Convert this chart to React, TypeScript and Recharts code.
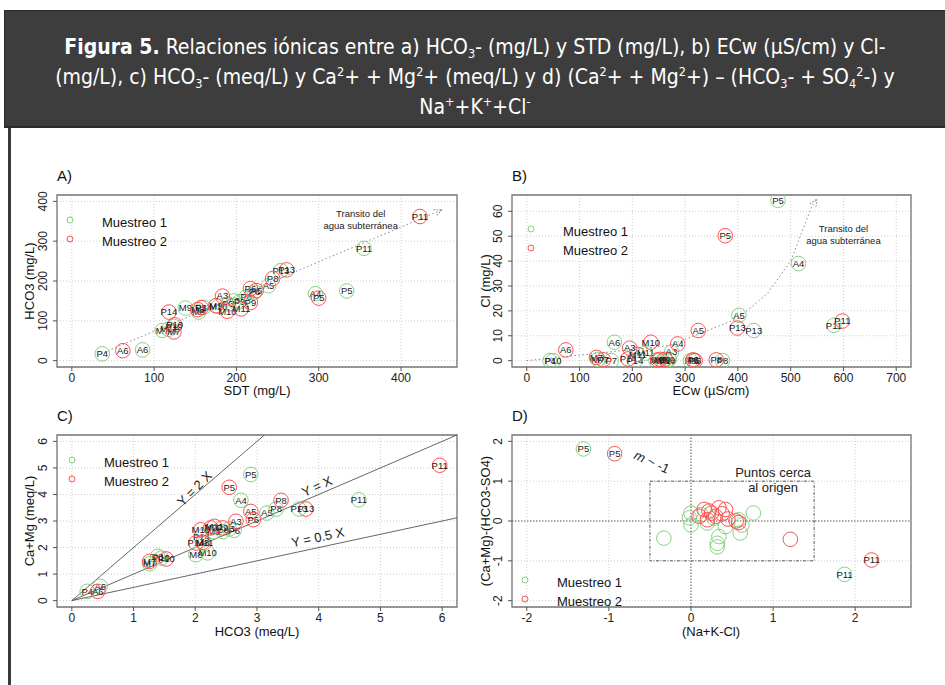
import React from "react"
import {
  ScatterChart,
  Scatter,
  XAxis,
  YAxis,
  CartesianGrid,
  ReferenceLine,
  ReferenceArea,
  ReferenceDot,
} from "recharts"

const GREEN = "#85d285"
const RED = "#ff5050"
const FONT = "'Liberation Sans', Arial, sans-serif"

type Pt = { id: string; x: number; y: number }

// A) SDT (mg/L) vs HCO3 (mg/L)
const aTicks = [0, 100, 200, 300, 400]
const aMuestreo1: Pt[] = [
  { id: "P4", x: 37, y: 17 },
  { id: "A6", x: 86, y: 27 },
  { id: "M7", x: 110, y: 76 },
  { id: "M11", x: 118, y: 79 },
  { id: "P10", x: 124, y: 86 },
  { id: "M9", x: 138, y: 132 },
  { id: "M8", x: 154, y: 122 },
  { id: "P14", x: 160, y: 134 },
  { id: "M10", x: 178, y: 136 },
  { id: "P3", x: 190, y: 142 },
  { id: "A3", x: 197, y: 150 },
  { id: "P9", x: 204, y: 148 },
  { id: "P8", x: 212, y: 160 },
  { id: "P6", x: 222, y: 172 },
  { id: "A5", x: 239, y: 188 },
  { id: "P13", x: 254, y: 226 },
  { id: "A4", x: 296, y: 168 },
  { id: "P5", x: 334, y: 175 },
  { id: "P11", x: 355, y: 282 },
]
const aMuestreo2: Pt[] = [
  { id: "A6", x: 62, y: 25 },
  { id: "M7", x: 124, y: 72 },
  { id: "P10", x: 125, y: 90 },
  { id: "P14", x: 118, y: 122 },
  { id: "M8", x: 153, y: 128 },
  { id: "P3", x: 157, y: 133 },
  { id: "M9", x: 175, y: 138 },
  { id: "A3", x: 183, y: 162 },
  { id: "M10", x: 189, y: 124 },
  { id: "M11", x: 206, y: 130 },
  { id: "P9", x: 217, y: 146 },
  { id: "P6", x: 217, y: 181 },
  { id: "A5", x: 224, y: 176 },
  { id: "P8", x: 244, y: 206 },
  { id: "P13", x: 261, y: 228 },
  { id: "P5", x: 300, y: 157 },
  { id: "P11", x: 423, y: 362 },
]
const aTransit = [
  { x: 35, y: 17 },
  { x: 450, y: 379 },
]

// B) ECw (uS/cm) vs Cl (mg/L)
const bTicksX = [0, 100, 200, 300, 400, 500, 600, 700]
const bTicksY = [0, 10, 20, 30, 40, 50, 60]
const bMuestreo1: Pt[] = [
  { id: "P4", x: 44, y: 0 },
  { id: "P10", x: 50, y: 0 },
  { id: "M7", x: 135, y: 0.5 },
  { id: "P7", x: 160, y: 0 },
  { id: "A6", x: 166, y: 7.4 },
  { id: "P14", x: 205, y: 0 },
  { id: "M11", x: 225, y: 3 },
  { id: "M8", x: 245, y: 0 },
  { id: "M9", x: 258, y: 0 },
  { id: "M10", x: 265, y: 0 },
  { id: "P9", x: 270, y: 0.5 },
  { id: "A3", x: 274, y: 3.4 },
  { id: "P3", x: 310, y: 0 },
  { id: "P6", x: 316, y: 0 },
  { id: "P8", x: 371, y: 0 },
  { id: "A5", x: 402, y: 18.2 },
  { id: "P13", x: 430, y: 12.1 },
  { id: "P5", x: 476, y: 64.4 },
  { id: "A4", x: 515, y: 39 },
  { id: "P11", x: 582, y: 14.2 },
]
const bMuestreo2: Pt[] = [
  { id: "A6", x: 74, y: 4.3 },
  { id: "M7", x: 132, y: 1.3 },
  { id: "P7", x: 145, y: 0.3 },
  { id: "P14", x: 192, y: 0.7 },
  { id: "A3", x: 195, y: 5 },
  { id: "M11", x: 210, y: 2.5 },
  { id: "M10", x: 235, y: 7.4 },
  { id: "M8", x: 248, y: 0.3 },
  { id: "M9", x: 253, y: 0.5 },
  { id: "P9", x: 262, y: 0.5 },
  { id: "A4", x: 286, y: 6.7 },
  { id: "P3", x: 315, y: 0.3 },
  { id: "P6", x: 319, y: 0 },
  { id: "A5", x: 325, y: 12.1 },
  { id: "P8", x: 359, y: 0.3 },
  { id: "P5", x: 376, y: 50.2 },
  { id: "P13", x: 399, y: 13.1 },
  { id: "P11", x: 598, y: 15.9 },
]
const bTransit = [
  { x: 0, y: 0 },
  { x: 90, y: 2 },
  { x: 180, y: 4 },
  { x: 267, y: 6 },
  { x: 330, y: 11 },
  { x: 400, y: 17 },
  { x: 456, y: 27 },
  { x: 500, y: 40 },
  { x: 520, y: 51 },
  { x: 540, y: 62 },
  { x: 550, y: 65 },
]

// C) HCO3 (meq/L) vs Ca+Mg (meq/L)
const cTicks = [0, 1, 2, 3, 4, 5, 6]
const cMuestreo1: Pt[] = [
  { id: "P4", x: 0.25, y: 0.35 },
  { id: "A6", x: 0.46, y: 0.54 },
  { id: "M7", x: 1.26, y: 1.39 },
  { id: "P3", x: 1.39, y: 1.67 },
  { id: "P10", x: 1.45, y: 1.6 },
  { id: "M8", x: 2.01, y: 1.73 },
  { id: "M10", x: 2.2, y: 1.8 },
  { id: "M11", x: 2.15, y: 2.17 },
  { id: "P14", x: 2.1, y: 2.4 },
  { id: "M9", x: 2.3, y: 2.6 },
  { id: "P9", x: 2.45, y: 2.6 },
  { id: "A3", x: 2.55, y: 2.7 },
  { id: "P6", x: 2.63, y: 2.65 },
  { id: "A4", x: 2.74, y: 3.78 },
  { id: "P5", x: 2.9, y: 4.75 },
  { id: "A5", x: 3.16, y: 3.3 },
  { id: "P8", x: 3.31, y: 3.45 },
  { id: "P13", x: 3.68, y: 3.45 },
  { id: "P11", x: 4.65, y: 3.8 },
]
const cMuestreo2: Pt[] = [
  { id: "A6", x: 0.42, y: 0.35 },
  { id: "M7", x: 1.26, y: 1.48 },
  { id: "P10", x: 1.53, y: 1.57 },
  { id: "P14", x: 2.01, y: 2.17 },
  { id: "M8", x: 2.12, y: 2.2 },
  { id: "M10", x: 2.09, y: 2.67 },
  { id: "M9", x: 2.25, y: 2.74 },
  { id: "M11", x: 2.31, y: 2.8 },
  { id: "P9", x: 2.44, y: 2.74 },
  { id: "A3", x: 2.66, y: 2.99 },
  { id: "P5", x: 2.55, y: 4.27 },
  { id: "A5", x: 2.9, y: 3.36 },
  { id: "P6", x: 2.94, y: 3.05 },
  { id: "P8", x: 3.39, y: 3.78 },
  { id: "P13", x: 3.79, y: 3.45 },
  { id: "P11", x: 5.96, y: 5.1 },
]

// D) (Na+K-Cl) vs (Ca+Mg)-(HCO3-SO4)
const dTicks = [-2, -1, 0, 1, 2]
const dMuestreo1: Pt[] = [
  { id: "P5", x: -1.31, y: 1.81 },
  { id: "P11", x: 1.87, y: -1.34 },
  { id: "", x: 0.76, y: 0.2 },
  { id: "", x: -0.33, y: -0.43 },
  { id: "", x: 0, y: 0.2 },
  { id: "", x: 0, y: -0.1 },
  { id: "", x: -0.02, y: 0.08 },
  { id: "", x: 0.32, y: -0.56 },
  { id: "", x: 0.32, y: -0.65 },
  { id: "", x: 0.34, y: -0.39 },
  { id: "", x: 0.6, y: -0.3 },
  { id: "", x: 0.62, y: -0.1 },
  { id: "", x: 0.42, y: -0.14 },
  { id: "", x: 0.58, y: 0.03 },
  { id: "", x: 0.12, y: 0.16 },
  { id: "", x: 0.28, y: 0.07 },
  { id: "", x: 0.2, y: -0.05 },
]
const dMuestreo2: Pt[] = [
  { id: "P5", x: -0.93, y: 1.69 },
  { id: "P11", x: 2.2, y: -0.98 },
  { id: "", x: 1.21, y: -0.46 },
  { id: "", x: 0.16, y: 0.29 },
  { id: "", x: 0.34, y: 0.33 },
  { id: "", x: 0.42, y: 0.29 },
  { id: "", x: 0.2, y: 0.03 },
  { id: "", x: 0.3, y: 0.12 },
  { id: "", x: 0.58, y: -0.04 },
  { id: "", x: 0.1, y: 0.12 },
  { id: "", x: 0.25, y: 0.2 },
  { id: "", x: 0.38, y: 0.18 },
  { id: "", x: 0.45, y: 0.05 },
  { id: "", x: 0.22, y: 0.25 },
  { id: "", x: 0.55, y: 0 },
]

const dot = (color: string) => (p: any) => (
  <g>
    <circle cx={p.cx} cy={p.cy} r={7.3} fill="none" stroke={color} strokeWidth={1} />
    {p.payload.id ? (
      <text x={p.cx} y={p.cy + 3.3} textAnchor="middle" fontSize={9.5} fill="#222" fontFamily={FONT}>
        {p.payload.id}
      </text>
    ) : null}
  </g>
)

const xTick = (p: any) => (
  <text x={p.x} y={p.y} dy="0.71em" textAnchor="middle" fontSize={12} fill="#222" fontFamily={FONT}>
    {p.payload.value}
  </text>
)

const yTick = (p: any) => (
  <text
    transform={`translate(${p.x - 4},${p.y}) rotate(-90)`}
    textAnchor="middle"
    fontSize={12}
    fill="#222"
    fontFamily={FONT}
  >
    {p.payload.value}
  </text>
)

const arrowHead = (angle: number) => (p: any) => (
  <path
    d="M-8,-3.5 L0,0 L-8,3.5"
    transform={`translate(${p.cx},${p.cy}) rotate(${angle})`}
    fill="none"
    stroke="#888"
    strokeDasharray="1.5 1.5"
  />
)

const note = (lines: string[], size: number, angle = 0, lh = 12) => (p: any) => (
  <text
    x={p.cx}
    y={p.cy}
    textAnchor="middle"
    fontSize={size}
    fill="#222"
    fontFamily={FONT}
    transform={`rotate(${angle} ${p.cx} ${p.cy})`}
  >
    {lines.map((l, i) => (
      <tspan key={i} x={p.cx} dy={i ? lh : 0}>
        {l}
      </tspan>
    ))}
  </text>
)

const noShape = () => <g />

function frame(xd: number[], yd: number[], xt: number[], yt: number[]) {
  return [
    <CartesianGrid key="g" stroke="#cfcfcf" strokeDasharray="1 2" />,
    <XAxis
      key="x"
      type="number"
      dataKey="x"
      domain={xd}
      ticks={xt}
      allowDataOverflow
      axisLine={false}
      tickLine={{ stroke: "#555" }}
      tickSize={4}
      tick={xTick}
      height={30}
      interval={0}
    />,
    <YAxis
      key="y"
      type="number"
      dataKey="y"
      domain={yd}
      ticks={yt}
      allowDataOverflow
      axisLine={false}
      tickLine={{ stroke: "#555" }}
      tickSize={4}
      tick={yTick}
      width={40}
      interval={0}
    />,
    <ReferenceArea key="box" x1={xd[0]} x2={xd[1]} y1={yd[0]} y2={yd[1]} fill="none" stroke="#777" strokeWidth={1.3} fillOpacity={0} />,
  ]
}

function Txt({ x, y, size = 13, rot = 0, anchor = "middle", children, color = "#111" }: any) {
  return (
    <div
      style={{
        position: "absolute",
        left: x,
        top: y,
        transform: `translate(${anchor === "middle" ? "-50%" : "0"},-50%) rotate(${rot}deg)`,
        fontSize: size,
        fontFamily: FONT,
        whiteSpace: "nowrap",
        lineHeight: 1,
        color,
      }}
    >
      {children}
    </div>
  )
}

function Legend({ cx, cy, tx }: { cx: number; cy: number; tx: number }) {
  const items = [
    { label: "Muestreo 1", color: GREEN },
    { label: "Muestreo 2", color: RED },
  ]
  return (
    <>
      {items.map((it, i) => (
        <React.Fragment key={it.label}>
          <svg style={{ position: "absolute", left: cx - 5, top: cy + i * 19 - 5 }} width={10} height={10}>
            <circle cx={5} cy={5} r={3} fill="none" stroke={it.color} />
          </svg>
          <Txt x={tx} y={cy + 1.5 + i * 19} anchor="start" size={13}>
            {it.label}
          </Txt>
        </React.Fragment>
      ))}
    </>
  )
}

const sub = { fontSize: "0.6em", lineHeight: 0, verticalAlign: "-0.35em" } as const
const sup = { fontSize: "0.6em", lineHeight: 0, verticalAlign: "0.6em" } as const

export default function App() {
  const W = 470
  const H = 240
  const mLeft = { top: 35, right: 13, bottom: 3, left: 17 }
  const mRight = { top: 35, right: 29, bottom: 3, left: 2 }
  return (
    <div style={{ position: "absolute", left: 0, top: 0, width: 945, height: 685, background: "#fff", overflow: "hidden" }}>
      <div
        style={{
          position: "absolute",
          left: 4,
          top: 10,
          width: 945,
          height: 118,
          background: "#3d3d3d",
          borderTop: "1px solid #2a2a2a",
          borderLeft: "1px solid #2a2a2a",
          borderBottom: "2px solid #2a2a2a",
          boxSizing: "border-box",
          color: "#fff",
          fontFamily: "'Liberation Sans Narrow', 'DejaVu Sans Condensed', sans-serif",
          fontSize: 21,
          lineHeight: "30px",
          textAlign: "center",
          paddingTop: 21,
          paddingRight: 4,
        }}
      >
        <div>
          <b>Figura 5.</b> Relaciones iónicas entre a) HCO<span style={sub}>3</span>- (mg/L) y STD (mg/L), b) ECw (µS/cm) y Cl-
        </div>
        <div>
          (mg/L), c) HCO<span style={sub}>3</span>- (meq/L) y Ca<span style={sup}>2</span>+ + Mg<span style={sup}>2</span>+ (meq/L) y d)
          (Ca<span style={sup}>2</span>+ + Mg<span style={sup}>2</span>+) – (HCO<span style={sub}>3</span>- + SO<span style={sub}>4</span>
          <span style={sup}>2</span>-) y
        </div>
        <div>
          Na<span style={sup}>+</span>+K<span style={sup}>+</span>+Cl<span style={sup}>-</span>
        </div>
      </div>
      <div style={{ position: "absolute", left: 8, top: 128, width: 3, height: 560, background: "#3a3a3a" }} />

      {/* A */}
      <div style={{ position: "absolute", left: 0, top: 160 }}>
        <ScatterChart width={W} height={H} margin={mLeft}>
          {frame([-18, 468], [-16, 416], aTicks, aTicks)}
          <Scatter data={aTransit} fill="none" stroke="#888" line={{ stroke: "#888", strokeDasharray: "1.5 2.5" }} lineType="joint" shape={noShape} isAnimationActive={false} />
          <ReferenceDot x={450} y={379} r={0} ifOverflow="visible" shape={arrowHead(-23)} />
          <ReferenceDot x={351} y={361} r={0} ifOverflow="visible" shape={note(["Transito del", "agua subterránea"], 9.5, 0, 12)} />
          <Scatter data={aMuestreo1} shape={dot(GREEN)} isAnimationActive={false} />
          <Scatter data={aMuestreo2} shape={dot(RED)} isAnimationActive={false} />
        </ScatterChart>
      </div>

      {/* B */}
      <div style={{ position: "absolute", left: 470, top: 160 }}>
        <ScatterChart width={W} height={H} margin={mRight}>
          {frame([-28, 728], [-2.56, 66.56], bTicksX, bTicksY)}
          <Scatter data={bTransit} fill="none" stroke="#888" line={{ stroke: "#888", strokeDasharray: "1.5 2.5" }} lineType="joint" shape={noShape} isAnimationActive={false} />
          <ReferenceDot x={550} y={65} r={0} ifOverflow="visible" shape={arrowHead(-58)} />
          <ReferenceDot x={600} y={51.5} r={0} ifOverflow="visible" shape={note(["Transito del", "agua subterránea"], 9.5, 0, 11.5)} />
          <Scatter data={bMuestreo1} shape={dot(GREEN)} isAnimationActive={false} />
          <Scatter data={bMuestreo2} shape={dot(RED)} isAnimationActive={false} />
        </ScatterChart>
      </div>

      {/* C */}
      <div style={{ position: "absolute", left: 0, top: 400 }}>
        <ScatterChart width={W} height={H} margin={mLeft}>
          {frame([-0.24, 6.24], [-0.24, 6.24], cTicks, cTicks)}
          <ReferenceLine segment={[{ x: 0, y: 0 }, { x: 3.12, y: 6.24 }]} stroke="#555" strokeWidth={0.9} />
          <ReferenceLine segment={[{ x: 0, y: 0 }, { x: 6.24, y: 6.24 }]} stroke="#555" strokeWidth={0.9} />
          <ReferenceLine segment={[{ x: 0, y: 0 }, { x: 6.24, y: 3.12 }]} stroke="#555" strokeWidth={0.9} />
          <ReferenceDot x={2.04} y={4.1} r={0} ifOverflow="visible" shape={note(["Y = 2 X"], 13, -45)} />
          <ReferenceDot x={4.0} y={4.15} r={0} ifOverflow="visible" shape={note(["Y = X"], 13, -24)} />
          <ReferenceDot x={4.0} y={2.22} r={0} ifOverflow="visible" shape={note(["Y = 0.5 X"], 13, -12)} />
          <Scatter data={cMuestreo1} shape={dot(GREEN)} isAnimationActive={false} />
          <Scatter data={cMuestreo2} shape={dot(RED)} isAnimationActive={false} />
        </ScatterChart>
      </div>

      {/* D */}
      <div style={{ position: "absolute", left: 470, top: 400 }}>
        <ScatterChart width={W} height={H} margin={mRight}>
          {frame([-2.18, 2.68], [-2.16, 2.16], dTicks, dTicks)}
          <ReferenceLine x={0} stroke="#666" strokeDasharray="1.5 1.5" />
          <ReferenceLine y={0} stroke="#666" strokeDasharray="1.5 1.5" />
          <ReferenceArea x1={-0.5} x2={1.5} y1={-1} y2={1} fill="none" fillOpacity={0} stroke="#555" strokeDasharray="3 1.5 1 1.5" />
          <ReferenceLine segment={[{ x: -1.37, y: 2.17 }, { x: 1.98, y: -1.28 }]} stroke="#888" strokeDasharray="1.5 1.5" />
          <ReferenceDot
            x={-0.5}
            y={1.38}
            r={0}
            ifOverflow="visible"
            shape={(p: any) => (
              <text x={p.cx} y={p.cy} textAnchor="middle" fontSize={13} fill="#222" fontFamily={FONT} transform={`rotate(25 ${p.cx} ${p.cy})`}>
                <tspan fontStyle="italic">m</tspan> ~ -1
              </text>
            )}
          />
          <ReferenceDot x={1.0} y={1.1} r={0} ifOverflow="visible" shape={note(["Puntos cerca", "al origen"], 13, 0, 15)} />
          <Scatter data={dMuestreo1} shape={dot(GREEN)} isAnimationActive={false} />
          <Scatter data={dMuestreo2} shape={dot(RED)} isAnimationActive={false} />
        </ScatterChart>
      </div>

      {/* panel titles */}
      <Txt x={57} y={175} size={15} anchor="start">A)</Txt>
      <Txt x={512} y={175} size={15} anchor="start">B)</Txt>
      <Txt x={57} y={415} size={15} anchor="start">C)</Txt>
      <Txt x={512} y={415} size={15} anchor="start">D)</Txt>

      {/* axis titles */}
      <Txt x={257} y={390}>SDT (mg/L)</Txt>
      <Txt x={29} y={281} rot={-90}>HCO3 (mg/L)</Txt>
      <Txt x={711} y={390}>ECw (µS/cm)</Txt>
      <Txt x={485} y={281} rot={-90}>Cl (mg/L)</Txt>
      <Txt x={257} y={631}>HCO3 (meq/L)</Txt>
      <Txt x={29} y={521} rot={-90}>Ca+Mg (meq/L)</Txt>
      <Txt x={711} y={631}>(Na+K-Cl)</Txt>
      <Txt x={485} y={521} rot={-90}>(Ca+Mg)-(HCO3-SO4)</Txt>

      <Legend cx={70} cy={220} tx={102} />
      <Legend cx={531} cy={229} tx={563} />
      <Legend cx={72} cy={460} tx={104} />
      <Legend cx={525} cy={580} tx={557} />
    </div>
  )
}
